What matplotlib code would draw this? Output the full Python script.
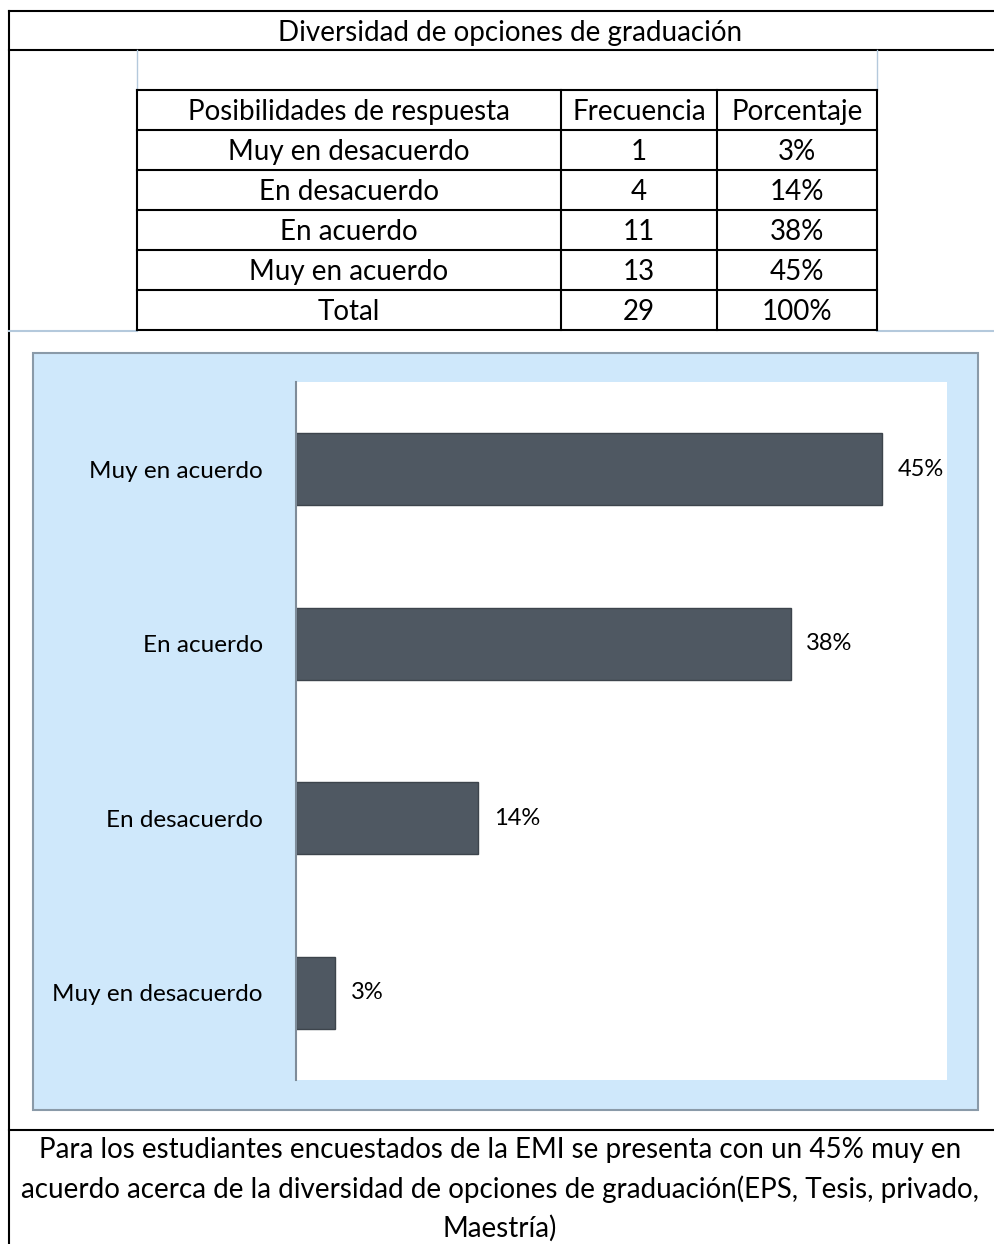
import matplotlib.pyplot as plt
from matplotlib.lines import Line2D
from matplotlib.patches import Rectangle

plt.rcParams['font.family'] = ['Lato', 'DejaVu Sans']

titulo = "Diversidad de opciones de graduación"
encabezados = ["Posibilidades de respuesta", "Frecuencia", "Porcentaje"]
respuestas = ["Muy en desacuerdo", "En desacuerdo", "En acuerdo", "Muy en acuerdo"]
frecuencia = [1, 4, 11, 13]
porcentaje = [0.03, 0.14, 0.38, 0.45]
total_frec = 29
total_pct = "100%"
conclusion = ["Para los estudiantes encuestados de la EMI se presenta con un 45% muy en",
              "acuerdo acerca de la diversidad de opciones de graduación(EPS, Tesis, privado,",
              "Maestría)"]

W, H = 994, 1244
fig = plt.figure(figsize=(W / 100, H / 100), dpi=100)


# helpers in pixel coords (origin top-left)
def px(x, y):
    return x / W, 1 - y / H


def line(x0, y0, x1, y1, color="black", lw=1.5):
    a, b = px(x0, y0)
    c, d = px(x1, y1)
    fig.add_artist(Line2D([a, c], [b, d], color=color, lw=lw, transform=fig.transFigure))


def txt(x, y, s, size=20, **kw):
    a, b = px(x, y)
    fig.text(a, b, s, fontsize=size, ha="center", va="center", **kw)


# outer frame
line(9, 11, W, 11)
line(9, 11, 9, H)
line(9, 50, W, 50)
line(9, 1130, W, 1130)
txt(510, 33, titulo)

# light grid lines of the sheet
grid = "#b4c9dc"
line(137, 50, 137, 90, color=grid, lw=1)
line(877, 50, 877, 90, color=grid, lw=1)
line(9, 331, 137, 331, color=grid, lw=1.5)
line(877, 331, W, 331, color=grid, lw=1.5)

# table
xs = [137, 561, 717, 877]
rows = [90 + 40 * i for i in range(7)]
for y in rows:
    line(xs[0], y, xs[-1], y)
for x in xs:
    line(x, rows[0], x, rows[-1])

celdas = [encabezados]
for r, f, p in zip(respuestas, frecuencia, porcentaje):
    celdas.append([r, str(f), f"{p:.0%}"])
celdas.append(["Total", str(total_frec), total_pct])
for i, fila in enumerate(celdas):
    yc = (rows[i] + rows[i + 1]) / 2 + 2
    for j, s in enumerate(fila):
        txt((xs[j] + xs[j + 1]) / 2, yc, s)

# chart background box
x0, y0 = px(33, 1110)
fig.add_artist(Rectangle((x0, y0), (978 - 33) / W, (1110 - 353) / H,
                         facecolor="#cfe8fb", edgecolor="#8a9aa8", lw=1.5,
                         transform=fig.transFigure, zorder=-1))

# bar chart
ax_l, ax_b = px(296, 1080)
ax = fig.add_axes([ax_l, ax_b, (947 - 296) / W, (1080 - 382) / H])
ypos = range(len(respuestas))
ax.barh(ypos, porcentaje, height=0.41, color="#4f5862", edgecolor="#3d444c", lw=1)
ax.set_xlim(0, 0.5)
ax.set_ylim(-0.5, 3.5)
ax.set_yticks(list(ypos))
ax.set_yticklabels(respuestas, fontsize=17.5)
ax.tick_params(axis="y", length=0, pad=24)
ax.set_xticks([])
for s in ["top", "right", "bottom"]:
    ax.spines[s].set_visible(False)
ax.spines["left"].set_color("#7f8c99")
ax.spines["left"].set_linewidth(1.5)
for yv, v in zip(ypos, porcentaje):
    ax.text(v + 0.012, yv, f"{v:.0%}", va="center", ha="left", fontsize=17)

for k, s in enumerate(conclusion):
    txt(500, 1150 + 39 * k, s)

fig.savefig("out.png", dpi=100)
